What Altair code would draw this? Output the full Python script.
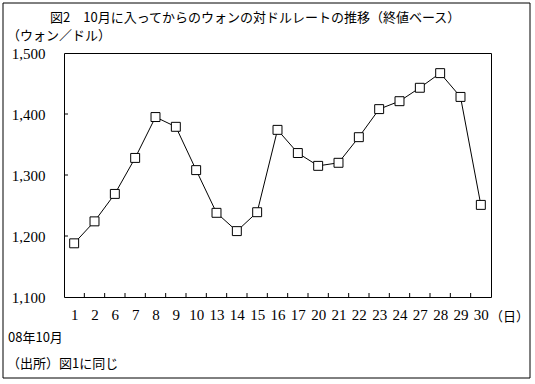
import altair as alt
import pandas as pd

days = ["1", "2", "6", "7", "8", "9", "10", "13", "14", "15", "16", "17",
        "20", "21", "22", "23", "24", "27", "28", "29", "30"]
rates = [1188, 1224, 1269, 1328, 1395, 1379, 1308, 1238, 1208, 1239, 1374, 1336,
         1315, 1320, 1362, 1408, 1421, 1443, 1467, 1428, 1251]
y_ticks = [1100, 1200, 1300, 1400, 1500]
inner_y_ticks = [1200, 1300, 1400]

title_text = "図2　10月に入ってからのウォンの対ドルレートの推移（終値ベース）"
unit_text = "（ウォン／ドル）"
xunit_text = "（日）"
month_text = "08年10月"
source_text = "（出所）図1に同じ"

W, H = 427, 244
FONT = "Liberation Serif, Noto Sans CJK JP"
JFONT = "Noto Sans CJK JP"

df = pd.DataFrame({"day": days, "rate": rates})

xscale = alt.Scale(type="point", padding=0.5)
xenc = alt.X("day:N", sort=days, scale=xscale,
             axis=alt.Axis(labelAngle=0, ticks=False, domain=False, grid=False,
                           labelPadding=10, title=None, labelFont=FONT,
                           labelFontSize=15, labelColor="black", labelOverlap=False))
yenc = alt.Y("rate:Q", scale=alt.Scale(domain=[1100, 1500], nice=False, zero=False),
             axis=alt.Axis(values=y_ticks, format=",.0f", ticks=False, domain=False,
                           grid=False, labelPadding=19, title=None, labelFont=FONT,
                           labelFontSize=15, labelColor="black"))

line = alt.Chart(df).mark_line(color="black", strokeWidth=1).encode(x=xenc, y=yenc)
pts = alt.Chart(df).mark_point(shape="square", size=80, filled=True, fill="white",
                               stroke="black", strokeWidth=1, opacity=1).encode(
    x=alt.X("day:N", sort=days), y=alt.Y("rate:Q"))

xt = alt.Chart(df).transform_filter("datum.day != '1'").mark_rule(
    color="black", strokeWidth=1, xOffset=-W / 42).encode(
    x=alt.X("day:N", sort=days), y=alt.value(H), y2=alt.value(H - 4))

yt = alt.Chart(pd.DataFrame({"rate": inner_y_ticks})).mark_rule(
    color="black", strokeWidth=1).encode(
    y=alt.Y("rate:Q"), x=alt.value(0), x2=alt.value(4))


def txt(s, x, y, font=JFONT, size=13, align="left"):
    return alt.Chart(pd.DataFrame({"t": [s]})).mark_text(
        align=align, baseline="middle", font=font, fontSize=size, color="black").encode(
        text="t:N", x=alt.value(x), y=alt.value(y))


frame = alt.Chart(pd.DataFrame({"a": [0]})).mark_rect(
    fill="transparent", stroke="black", strokeWidth=1).encode(
    x=alt.value(-61), x2=alt.value(466), y=alt.value(-50), y2=alt.value(325))

chart = alt.layer(
    frame,
    line, pts, xt, yt,
    txt(title_text, -14, -35),
    txt(unit_text, -57, -17),
    txt(xunit_text, 426, 264),
    txt(month_text, -56, 285),
    txt(source_text, -57, 311),
).properties(
    width=W, height=H,
    autosize=alt.AutoSizeParams(type="none"),
    padding={"left": 64, "top": 53, "right": 44, "bottom": 87},
    background="white",
).configure_view(stroke="black", strokeWidth=1)

chart.save("out.html", embed_options={"renderer": "svg", "actions": False})
